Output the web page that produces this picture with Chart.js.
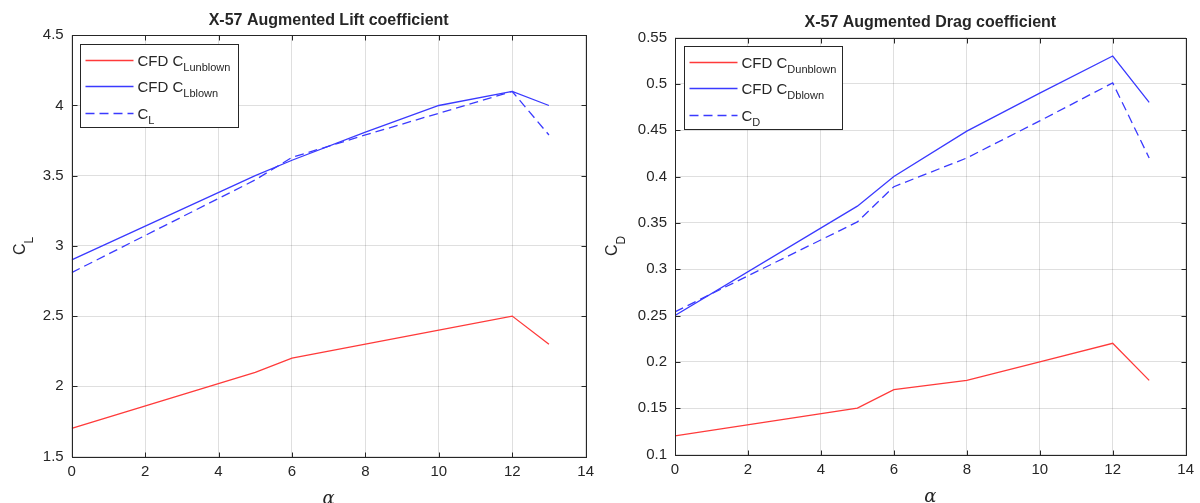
<!DOCTYPE html>
<html>
<head>
<meta charset="utf-8">
<title>X-57 Augmented coefficients</title>
<script src="https://cdn.jsdelivr.net/npm/chart.js@4.4.1/dist/chart.umd.min.js"></script>
<style>
  html, body { margin: 0; padding: 0; background: #fff; }
  #wrap { position: relative; width: 1200px; height: 503px; overflow: hidden; }
  .pane { position: absolute; top: 0; width: 600px; height: 503px; }
</style>
</head>
<body>
<div id="wrap">
  <div class="pane" style="left:0"><canvas id="liftChart" width="600" height="503"></canvas></div>
  <div class="pane" style="left:600px"><canvas id="dragChart" width="600" height="503"></canvas></div>
</div>
<script>
// angle of attack samples (deg)
const alpha = [0, 5, 6, 8, 10, 12, 13];
const alphaTicks = [0, 2, 4, 6, 8, 10, 12, 14];

// lift
const clUnblown = [1.7, 2.1, 2.2, 2.3, 2.4, 2.5, 2.3];
const clBlown = [2.9, 3.5, 3.61, 3.81, 4.0, 4.1, 4.0];
const clAugmented = [2.81, 3.47, 3.63, 3.79, 3.945, 4.1, 3.79];
const clTicks = [1.5, 2, 2.5, 3, 3.5, 4, 4.5];

// drag
const cdUnblown = [0.12, 0.15, 0.17, 0.18, 0.2, 0.22, 0.18];
const cdBlown = [0.25, 0.368, 0.4, 0.449, 0.49, 0.53, 0.48];
const cdAugmented = [0.254, 0.351, 0.389, 0.42, 0.46, 0.501, 0.42];
const cdTicks = [0.1, 0.15, 0.2, 0.25, 0.3, 0.35, 0.4, 0.45, 0.5, 0.55];

const INK = '#262626';
const FONT = '"Liberation Sans", Arial, Helvetica, sans-serif';
const RED = '#ff3a3a';
const BLUE = '#3a3aff';
const LINE_W = 1.3;
const DASH = [9, 5];

function pts(ys) {
  return alpha.map((a, i) => ({ x: a, y: ys[i] }));
}

// draws "main" followed by a dropped subscript, starting at x, baseline y
function subText(ctx, x, y, main, sub, size, subSize, drop) {
  ctx.font = size + 'px ' + FONT;
  ctx.fillText(main, x, y);
  const w = ctx.measureText(main).width;
  ctx.font = subSize + 'px ' + FONT;
  ctx.fillText(sub, x + w, y + drop);
  return w + ctx.measureText(sub).width;
}

// MATLAB-like frame: full box, inward ticks, title, axis labels, legend
const matlabFrame = {
  id: 'matlabFrame',
  afterDraw(chart, args, o) {
    const { ctx, chartArea: a } = chart;
    const xs = chart.scales.x, ys = chart.scales.y;
    const L = Math.round(a.left) + 0.5, R = Math.round(a.right) + 0.5;
    const T = Math.round(a.top) + 0.5, B = Math.round(a.bottom) + 0.5;
    ctx.save();
    ctx.strokeStyle = INK;
    ctx.lineWidth = 1;
    ctx.setLineDash([]);
    ctx.strokeRect(L, T, R - L, B - T);

    ctx.beginPath();
    xs.ticks.forEach(t => {
      const px = Math.round(xs.getPixelForValue(t.value)) + 0.5;
      ctx.moveTo(px, B); ctx.lineTo(px, B - 5);
      ctx.moveTo(px, T); ctx.lineTo(px, T + 5);
    });
    ys.ticks.forEach(t => {
      const py = Math.round(ys.getPixelForValue(t.value)) + 0.5;
      ctx.moveTo(L, py); ctx.lineTo(L + 5, py);
      ctx.moveTo(R, py); ctx.lineTo(R - 5, py);
    });
    ctx.stroke();

    const cx = (a.left + a.right) / 2;
    const cy = (a.top + a.bottom) / 2;
    ctx.fillStyle = INK;

    // title
    ctx.font = 'bold 16px ' + FONT;
    ctx.textAlign = 'center';
    ctx.textBaseline = 'middle';
    ctx.fillText(o.title, cx, a.top - 14.5);

    // x label
    ctx.font = 'italic 18px "DejaVu Serif", "Liberation Serif", serif';
    ctx.textBaseline = 'alphabetic';
    ctx.fillText('\u03b1', cx, a.bottom + 47);

    // y label, rotated
    ctx.save();
    ctx.translate(a.left - o.yLabelGap, cy);
    ctx.rotate(-Math.PI / 2);
    ctx.textAlign = 'left';
    ctx.font = '16px ' + FONT;
    const wMain = ctx.measureText('C').width;
    ctx.font = '12px ' + FONT;
    const wSub = ctx.measureText(o.symbol).width;
    subText(ctx, -(wMain + wSub) / 2, 0, 'C', o.symbol, 16, 12, 8);
    ctx.restore();

    // legend
    const bx = Math.round(a.left + 8.5) + 0.5;
    const by = Math.round(a.top + 8.5) + 0.5;
    ctx.fillStyle = '#fff';
    ctx.fillRect(bx, by, 158, 83);
    ctx.strokeStyle = INK;
    ctx.strokeRect(bx, by, 158, 83);
    const rows = [16, 42, 69];
    chart.data.datasets.forEach((ds, i) => {
      const ry = by + rows[i];
      ctx.strokeStyle = ds.borderColor;
      ctx.lineWidth = LINE_W;
      ctx.setLineDash(ds.borderDash || []);
      ctx.beginPath();
      ctx.moveTo(bx + 5, ry);
      ctx.lineTo(bx + 53, ry);
      ctx.stroke();
      ctx.setLineDash([]);
      ctx.fillStyle = INK;
      ctx.textAlign = 'left';
      ctx.textBaseline = 'alphabetic';
      const parts = ds.label.split('_');
      subText(ctx, bx + 57, Math.round(ry + 5), parts[0], parts[1], 15, 11, 5);
    });
    ctx.restore();
  }
};

function makeChart(id, cfg) {
  return new Chart(document.getElementById(id), {
    type: 'line',
    data: {
      datasets: [
        { label: 'CFD C_' + cfg.symbol + 'unblown', data: pts(cfg.unblown), borderColor: RED, order: 3 },
        { label: 'CFD C_' + cfg.symbol + 'blown', data: pts(cfg.blown), borderColor: BLUE, order: 2 },
        { label: 'C_' + cfg.symbol, data: pts(cfg.augmented), borderColor: BLUE, borderDash: DASH, order: 1 }
      ].map(d => Object.assign(d, { borderWidth: LINE_W, pointRadius: 0, tension: 0, fill: false }))
    },
    options: {
      responsive: false,
      animation: false,
      devicePixelRatio: 1,
      layout: { padding: { left: 0, right: cfg.padRight, top: cfg.top, bottom: 0 } },
      plugins: {
        legend: { display: false },
        title: { display: false },
        tooltip: { enabled: false },
        matlabFrame: { title: cfg.title, symbol: cfg.symbol, yLabelGap: cfg.yLabelGap }
      },
      scales: {
        x: {
          type: 'linear',
          min: 0, max: 14,
          afterBuildTicks: s => { s.ticks = alphaTicks.map(v => ({ value: v })); },
          afterFit: s => { s.height = 503 - cfg.bottom; },
          ticks: { color: INK, font: { family: FONT, size: 15 }, padding: 6, maxRotation: 0, callback: v => String(v) },
          grid: { color: 'rgba(38,38,38,0.15)', drawTicks: false },
          border: { display: false }
        },
        y: {
          type: 'linear',
          min: cfg.yTicks[0], max: cfg.yTicks[cfg.yTicks.length - 1],
          afterBuildTicks: s => { s.ticks = cfg.yTicks.map(v => ({ value: v })); },
          afterFit: s => { s.width = cfg.left; },
          ticks: { color: INK, font: { family: FONT, size: 15 }, padding: 8, callback: v => String(v) },
          grid: { color: 'rgba(38,38,38,0.15)', drawTicks: false },
          border: { display: false }
        }
      }
    },
    plugins: [matlabFrame]
  });
}

makeChart('liftChart', {
  title: 'X-57 Augmented Lift coefficient',
  symbol: 'L',
  unblown: clUnblown, blown: clBlown, augmented: clAugmented,
  yTicks: clTicks,
  left: 71.7, padRight: 10.3, top: 35.3, bottom: 456.5,
  yLabelGap: 46.7
});

makeChart('dragChart', {
  title: 'X-57 Augmented Drag coefficient',
  symbol: 'D',
  unblown: cdUnblown, blown: cdBlown, augmented: cdAugmented,
  yTicks: cdTicks,
  left: 75, padRight: 11, top: 37.5, bottom: 454.5,
  yLabelGap: 57.7
});
</script>
</body>
</html>
